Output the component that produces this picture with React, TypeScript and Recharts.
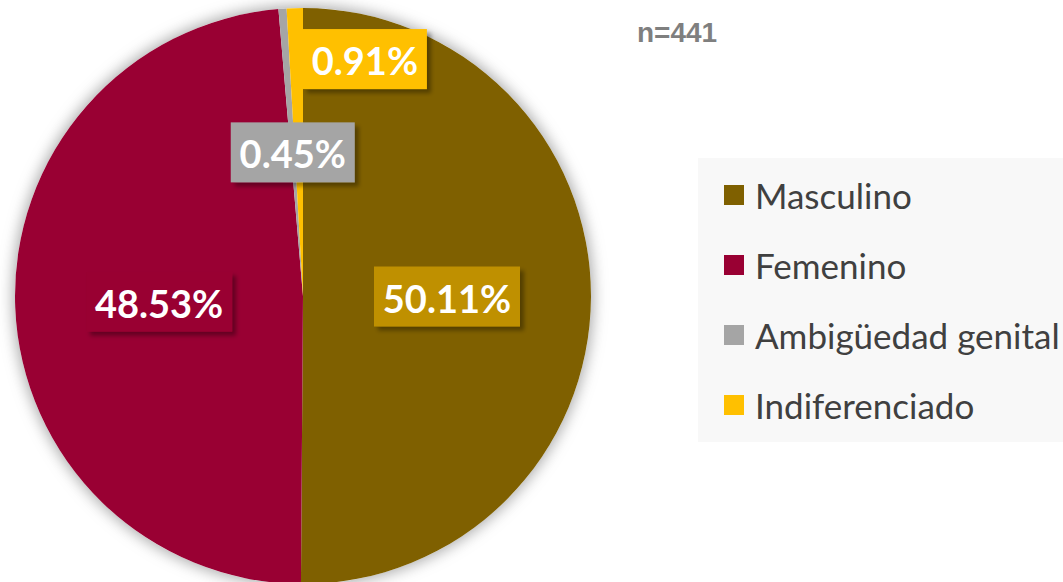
import { PieChart, Pie, Cell, Legend } from 'recharts';

// Distribución por sexo (n=441)
const categories = ['Masculino', 'Femenino', 'Ambigüedad genital', 'Indiferenciado'];
const counts = [221, 214, 2, 4];
const sliceColors = ['#7F6000', '#990033', '#A5A5A5', '#FFC000'];
const labelColors = ['#BF9000', '#990033', '#A5A5A5', '#FFC000'];
const total = counts.reduce((a, b) => a + b, 0);

const data = categories.map((name, i) => ({ name, value: counts[i] }));

// Ajuste manual de etiquetas (como en Excel, la etiqueta pequeña se movió)
const labelNudge = [
  { dx: 0, dy: 0 },
  { dx: 0, dy: 0 },
  { dx: 0, dy: 0 },
  { dx: 66, dy: -93 },
];

const RADIAN = Math.PI / 180;

function renderLabel(props: any) {
  const { cx, cy, midAngle, outerRadius, index, value } = props;
  const r = outerRadius * 0.5;
  const x = cx + r * Math.cos(-midAngle * RADIAN) + labelNudge[index].dx;
  const y = cy + r * Math.sin(-midAngle * RADIAN) + labelNudge[index].dy;
  const text = `${((value / total) * 100).toFixed(2)}%`;
  const w = text.length * 22 + 14;
  const h = 60;
  return (
    <g key={`label-${index}`}>
      {index === 0 && (
        <defs>
          <filter id="labelShadow" x="-20%" y="-20%" width="150%" height="160%">
            <feDropShadow dx="4" dy="4" stdDeviation="2" floodColor="#000" floodOpacity="0.35" />
          </filter>
        </defs>
      )}
      <rect
        x={x - w / 2}
        y={y - h / 2}
        width={w}
        height={h}
        fill={labelColors[index]}
        filter="url(#labelShadow)"
      />
      <text
        x={x}
        y={y + 1}
        textAnchor="middle"
        dominantBaseline="central"
        fill="#fff"
        fontFamily="Lato"
        fontWeight={700}
        fontSize={38}
      >
        {text}
      </text>
    </g>
  );
}

function LegendContent() {
  return (
    <div
      style={{
        width: 365,
        height: 284,
        background: '#F8F8F8',
        boxSizing: 'border-box',
        paddingTop: 2,
        paddingLeft: 26,
      }}
    >
      {categories.map((name, i) => (
        <div key={name} style={{ display: 'flex', alignItems: 'center', height: 70 }}>
          <div style={{ width: 20, height: 20, background: sliceColors[i], marginRight: 11 }} />
          <span style={{ fontFamily: 'Lato', fontSize: 35, color: '#404040', whiteSpace: 'nowrap', lineHeight: '70px' }}>
            {name}
          </span>
        </div>
      ))}
    </div>
  );
}

export default function App() {
  return (
    <div style={{ position: 'absolute', left: 0, top: 0, width: 1063, height: 582, background: '#fff', overflow: 'hidden' }}>
      <style>{`.pie-shadow { filter: drop-shadow(0 0 8px rgba(0,0,0,0.22)); }`}</style>
      <PieChart width={1063} height={582} margin={{ top: 0, right: 0, bottom: 0, left: 0 }}>
        <Pie
          className="pie-shadow"
          data={[{ name: 'fondo', value: 1 }]}
          dataKey="value"
          cx={303}
          cy={296}
          outerRadius={288}
          startAngle={90}
          endAngle={-270}
          fill="#fff"
          stroke="none"
          isAnimationActive={false}
          legendType="none"
        />
        <Pie
          data={data}
          dataKey="value"
          nameKey="name"
          cx={303}
          cy={296}
          outerRadius={288}
          startAngle={90}
          endAngle={-270}
          stroke="none"
          labelLine={false}
          label={renderLabel}
          isAnimationActive={false}
        >
          {data.map((entry, i) => (
            <Cell key={`cell-${entry.name}`} fill={sliceColors[i]} />
          ))}
        </Pie>
        <Legend
          content={<LegendContent />}
          wrapperStyle={{ position: 'absolute', left: 698, top: 158, width: 365 }}
        />
      </PieChart>
      <div
        style={{
          position: 'absolute',
          left: 637,
          top: 17,
          fontFamily: '"Liberation Sans", Arial, sans-serif',
          fontWeight: 700,
          fontSize: 28,
          color: '#7F7F7F',
        }}
      >
        n=441
      </div>
    </div>
  );
}
